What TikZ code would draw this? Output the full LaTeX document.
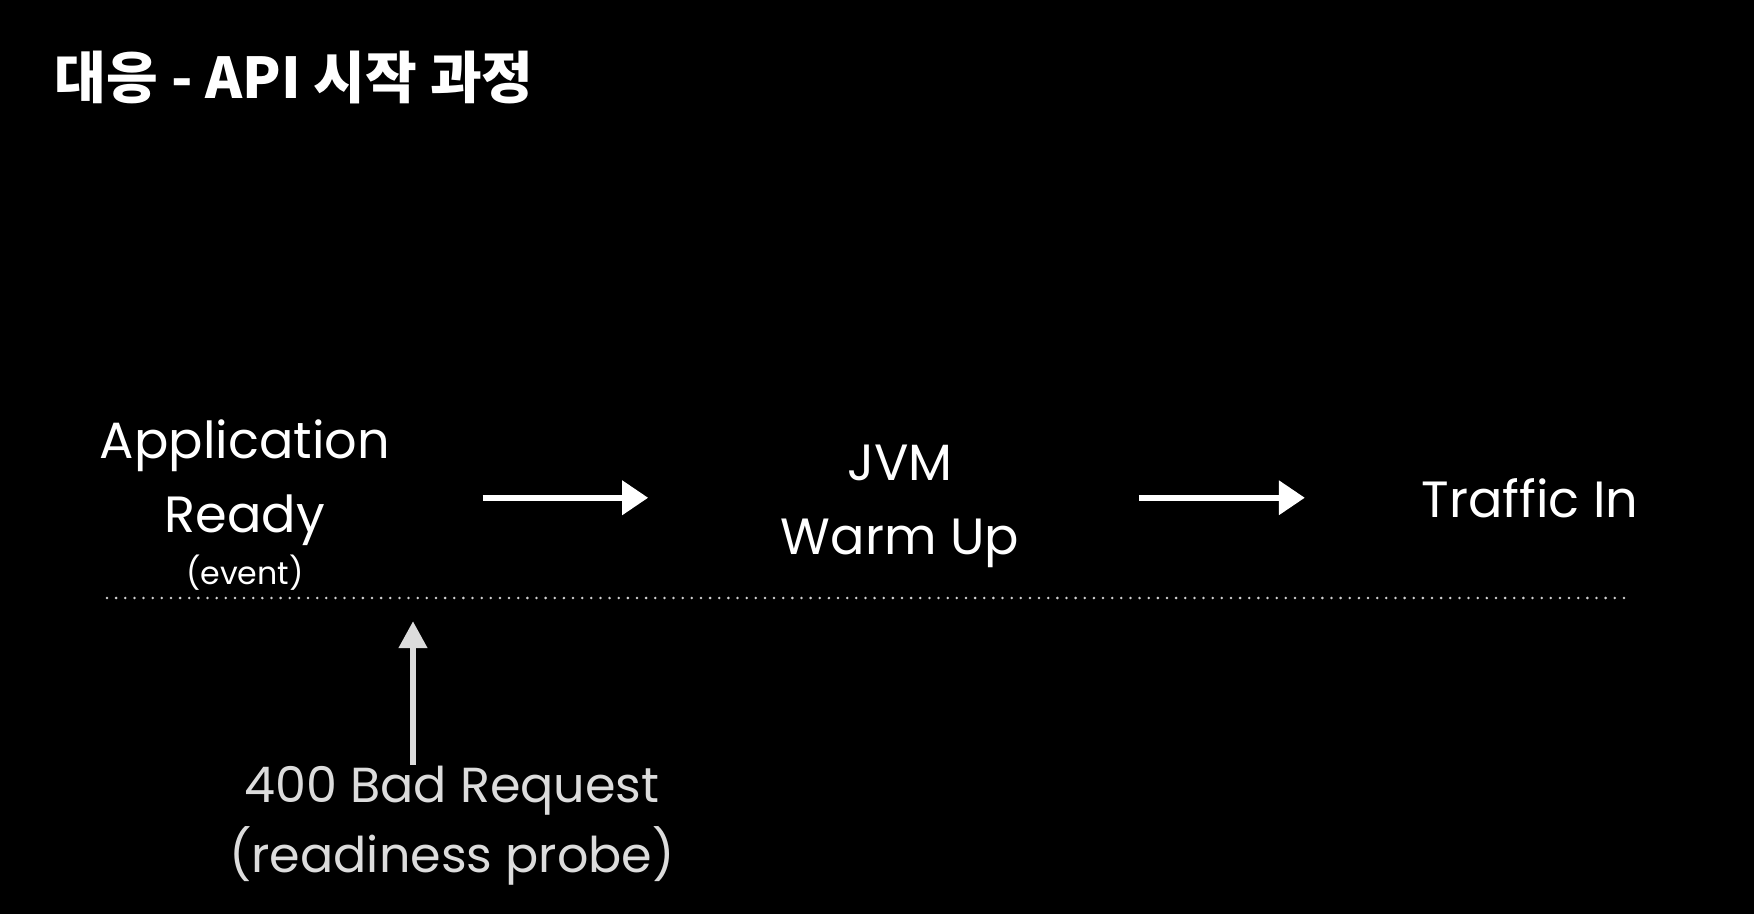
\documentclass[tikz,border=0pt]{standalone}
\usepackage{fontspec}
\setmainfont{Poppins}
\newfontfamily\kofont{Noto Sans CJK KR}
\usetikzlibrary{arrows.meta}
\definecolor{probegray}{HTML}{DCDCDC}
\definecolor{dotgray}{HTML}{D0D0D0}

\begin{document}
\begin{tikzpicture}[
  stage/.style = {text=white, font=\fontsize{14.5}{20.8}\selectfont, align=center, inner sep=0},
  probe/.style = {text=probegray, font=\fontsize{14}{20}\selectfont, inner sep=0},
  flow/.style = {white, line width=0.065cm, -{Triangle[length=0.26cm, width=0.33cm]}},
  timeline/.style = {dotgray, line width=0.8pt, line cap=round, dash pattern=on 0pt off 2.6pt}]
\fill[black] (0,0) rectangle (17.54,9.14);
\node[anchor=base west, text=white, font=\kofont\bfseries\fontsize{16}{20}\selectfont, inner sep=0] (title) at (0.54,8.16) {대응 - API 시작 과정};
\node[stage, anchor=base] (app) at (2.45,3.82) {Application\\Ready};
\node[anchor=base, text=white, font=\fontsize{9}{11}\selectfont, inner sep=0] (event) at (2.45,3.30) {(event)};
\node[stage, anchor=base] (jvm) at (9.00,3.60) {JVM\\Warm Up};
\node[stage, anchor=base] (traffic) at (15.30,3.97) {Traffic In};
\coordinate (line0) at (1.07,3.16);
\coordinate (line1) at (16.33,3.16);
\coordinate (tick) at (4.13,3.16);
\draw[timeline] (line0) -- (line1);
\node[probe, anchor=base] (bad) at (4.52,1.12) {400 Bad Request};
\node[probe, anchor=base] (readiness) at (4.52,0.42) {(readiness probe)};
\draw[flow, shorten <=0.92cm, shorten >=1.32cm] (app.east |- traffic) -- (jvm.west |- traffic);
\draw[flow, shorten <=1.19cm, shorten >=1.16cm] (jvm.east |- traffic) -- (traffic.west);
\draw[flow, probegray, line width=0.067cm, -{Triangle[length=0.27cm, width=0.27cm]}] (bad.north -| tick) -- ([yshift=-0.23cm]tick);
\end{tikzpicture}
\end{document}
